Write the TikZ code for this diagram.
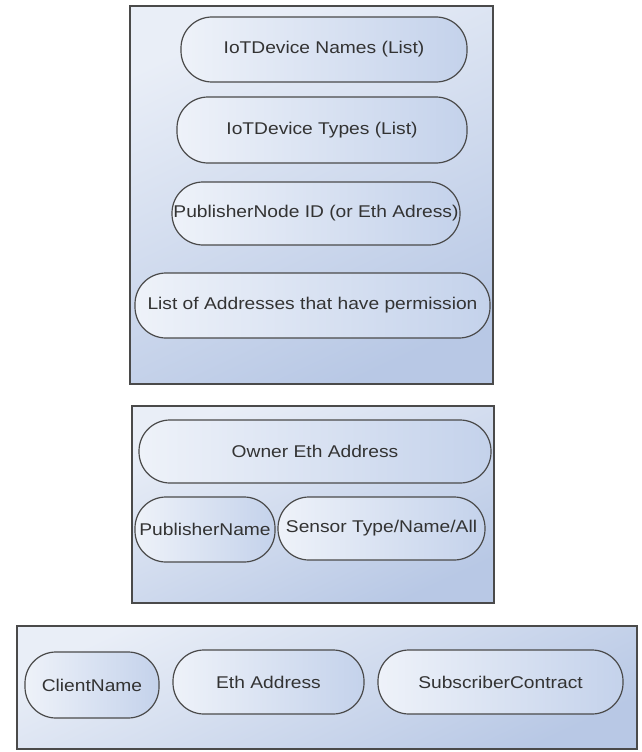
\documentclass[tikz,border=0pt]{standalone}
\usepackage{fontspec}
\setmainfont{Liberation Sans}[FakeStretch=1.13]
\definecolor{boxtop}{HTML}{E9EEF7}
\definecolor{boxbot}{HTML}{B8C8E5}
\definecolor{pillL}{HTML}{EEF2F9}
\definecolor{pillR}{HTML}{C4D2EB}
\definecolor{edge}{HTML}{4A4A4A}
\begin{document}
\begin{tikzpicture}[x=1pt,y=-1pt,
  container/.style={draw=edge, line width=1.6pt, top color=boxtop, bottom color=boxbot, shading angle=25},
  pill/.style={draw=edge, line width=1.2pt, left color=pillL, right color=pillR, rectangle, rounded corners=31pt, inner sep=0pt, font=\fontsize{17}{19}\selectfont, text=black!80},
]
\useasboundingbox (0,0) rectangle (642,752);
\fill[white] (0,0) rectangle (642,752);
% containers
\path[container] (130,6) rectangle (493,384);
\path[container] (132,406) rectangle (494,603);
\path[container] (17,626) rectangle (637,749);
% box 1
\node[pill, minimum width=286pt, minimum height=65pt] (names) at (324,49.5) {IoTDevice Names (List)};
\node[pill, minimum width=290pt, minimum height=66pt] (types) at (322,130) {IoTDevice Types (List)};
\node[pill, minimum width=288pt, minimum height=63pt] (pubnode) at (316,213.5) {PublisherNode ID (or Eth Adress)};
\node[pill, minimum width=355pt, minimum height=65pt] (addrs) at (312.5,305.5) {List of Addresses that have permission};
% box 2
\node[pill, minimum width=352pt, minimum height=63pt] (owner) at (315,451.5) {Owner Eth Address};
\node[pill, minimum width=140pt, minimum height=65pt] (pubname) at (205,529.5) {PublisherName};
\node[pill, minimum width=207pt, minimum height=63pt] (sensor) at (381.5,528.5) {Sensor Type/Name/All};
% box 3
\node[pill, minimum width=134pt, minimum height=66pt] (client) at (92,685) {ClientName};
\node[pill, minimum width=191pt, minimum height=64pt] (eth) at (268.5,682) {Eth Address};
\node[pill, minimum width=245pt, minimum height=64pt] (subscr) at (500.5,682) {SubscriberContract};
\end{tikzpicture}
\end{document}
